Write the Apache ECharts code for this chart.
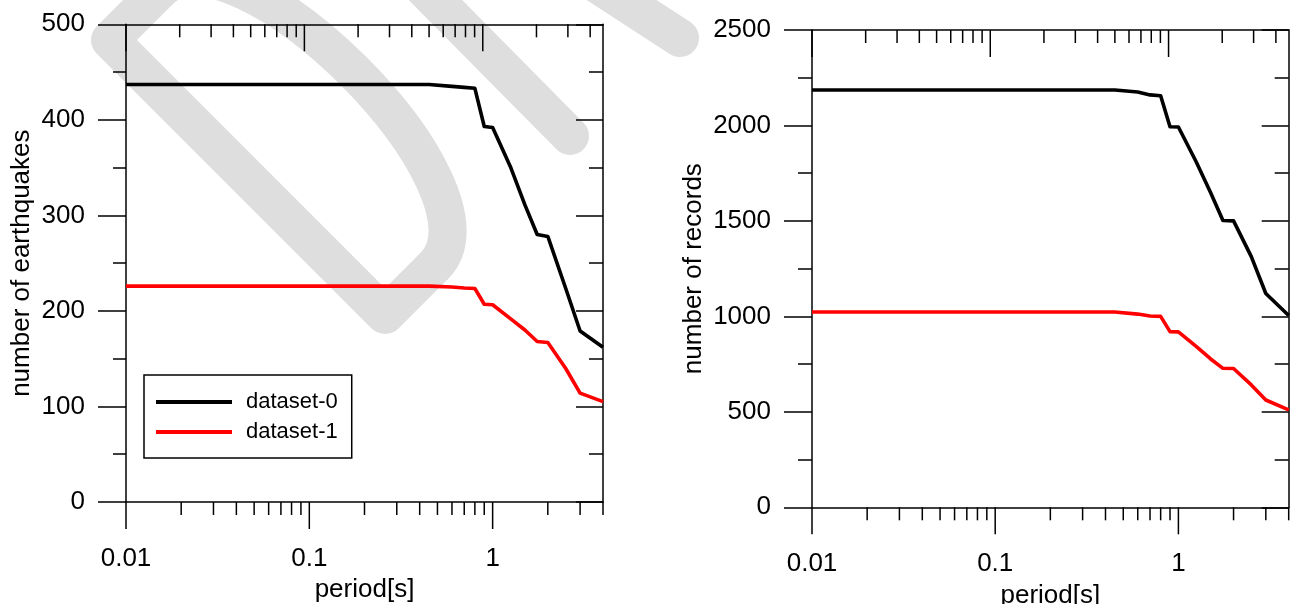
<!DOCTYPE html>
<html><head><meta charset="utf-8">
<script src="https://cdn.jsdelivr.net/npm/echarts@6/dist/echarts.min.js"></script>
<style>html,body{margin:0;padding:0;background:#fff}#c{width:1290px;height:604px}</style>
</head><body><div id="c"></div>
<script>
// ---- data ----
const periods = [0.01, 0.02, 0.03, 0.05, 0.075, 0.1, 0.15, 0.2, 0.25, 0.3, 0.4, 0.45, 0.6, 0.7, 0.8, 0.9, 1, 1.25, 1.5, 1.75, 2, 2.5, 3, 4];
const eqDataset0 = [437, 437, 437, 437, 437, 437, 437, 437, 437, 437, 437, 437, 435, 434, 433, 393, 392, 351, 311, 280, 278, 224, 179, 162];
const eqDataset1 = [226, 226, 226, 226, 226, 226, 226, 226, 226, 226, 226, 226, 225, 224, 223.5, 207, 206.5, 192, 180, 168, 167, 140, 114, 105];
const recDataset0 = [2186, 2186, 2186, 2186, 2186, 2186, 2186, 2186, 2186, 2186, 2186, 2186, 2175, 2160, 2156, 1993, 1992, 1810, 1648, 1502, 1500, 1313, 1120, 1005];
const recDataset1 = [1023, 1023, 1023, 1023, 1023, 1023, 1023, 1023, 1023, 1023, 1023, 1023, 1012, 1002, 1000, 920, 919, 843, 777, 728, 727, 641, 562, 510];
const seriesNames = ['dataset-0', 'dataset-1'];
const xMajorTicks = [0.01, 0.1, 1];
const xMinorTicks = [0.02, 0.03, 0.04, 0.05, 0.06, 0.07, 0.08, 0.09, 0.2, 0.3, 0.4, 0.5, 0.6, 0.7, 0.8, 0.9, 2, 3, 4];
const xRange = [0.01, 4];
const xTopRange = [0.01, 4.72];
const eqYRange = [0, 500], eqYStep = 100;
const recYRange = [0, 2500], recYStep = 500;
const xTitle = 'period[s]';
const eqYTitle = 'number of earthquakes';
const recYTitle = 'number of records';

// ---- chart ----
const FONT = "'Liberation Sans', Arial, sans-serif";
const FS = 26;
const AX = {color: '#000', width: 1.5};
const chart = echarts.init(document.getElementById('c'), null, {renderer: 'canvas'});

function pairs(ys) { return periods.map((p, i) => [p, ys[i]]); }

function xBottom(gridIndex, nameGap) {
  return {
    type: 'log', gridIndex, position: 'bottom', min: xRange[0], max: xRange[1], logBase: 10,
    axisLine: {show: true, onZero: false, lineStyle: AX},
    axisTick: {show: false}, splitLine: {show: false}, minorTick: {show: false},
    axisLabel: {show: true, margin: 44, fontSize: FS, color: '#000', fontFamily: FONT,
      showMaxLabel: false, formatter: v => String(+(+v).toPrecision(6))},
    name: xTitle, nameLocation: 'middle', nameGap,
    nameTextStyle: {fontSize: FS, color: '#000', fontFamily: FONT}
  };
}
function xTop(gridIndex) {
  return {
    type: 'log', gridIndex, position: 'top', min: xTopRange[0], max: xTopRange[1], logBase: 10,
    axisLine: {show: true, onZero: false, lineStyle: AX},
    axisTick: {show: false}, axisLabel: {show: false}, splitLine: {show: false}
  };
}
function yLeft(gridIndex, range, step, name, nameGap, tickLen, minorLen) {
  return {
    type: 'value', gridIndex, position: 'left', min: range[0], max: range[1], interval: step,
    axisLine: {show: true, onZero: false, lineStyle: AX},
    axisTick: {show: true, inside: false, length: tickLen, lineStyle: AX},
    minorTick: {show: true, splitNumber: 2, length: minorLen, lineStyle: AX},
    splitLine: {show: false}, minorSplitLine: {show: false},
    axisLabel: {margin: 41, fontSize: FS, color: '#000', fontFamily: FONT, formatter: v => String(v)},
    name, nameLocation: 'middle', nameGap,
    nameTextStyle: {fontSize: FS, color: '#000', fontFamily: FONT}
  };
}
function yRight(gridIndex, range, step, tickLen, minorLen) {
  return {
    type: 'value', gridIndex, position: 'right', min: range[0], max: range[1], interval: step,
    axisLine: {show: true, onZero: false, lineStyle: AX},
    axisTick: {show: true, inside: true, length: tickLen, lineStyle: AX},
    minorTick: {show: true, splitNumber: 2, length: minorLen, lineStyle: AX},
    splitLine: {show: false}, minorSplitLine: {show: false},
    axisLabel: {show: false}
  };
}
function tickSeries(xIdx, yIdx, atTop) {
  return {
    type: 'custom', xAxisIndex: xIdx, yAxisIndex: yIdx, silent: true, clip: false, z: 3,
    data: xMajorTicks.concat(xMinorTicks).map(v => [v, 0]),
    renderItem(params, api) {
      const v = api.value(0);
      const cs = params.coordSys;
      const x = api.coord([v, 0])[0];
      const len = xMajorTicks.indexOf(v) >= 0 ? 27 : 13;
      const y0 = atTop ? cs.y : cs.y + cs.height;
      return {type: 'line', shape: {x1: x, y1: y0, x2: x, y2: y0 + len},
        style: {stroke: '#000', lineWidth: 1.5}};
    }
  };
}
function lineSeries(name, xIdx, yIdx, ys, color) {
  return {
    type: 'line', name, xAxisIndex: xIdx, yAxisIndex: yIdx, data: pairs(ys),
    showSymbol: false, symbol: 'none', color, z: 5,
    lineStyle: {color, width: 3.6, join: 'round'}
  };
}

// watermark (decoration)
const WM = '#dedede';
const A0 = [110, 40], L0 = 389, r2 = Math.SQRT1_2;
function P(u, v) { return [A0[0] + (u + v) * r2, A0[1] + (u - v) * r2]; }
const bS = P(L0, 70), bC1 = P(L0, 177), bC2 = P(0, 177), bE = P(0, 70);
const wmStyle = {stroke: WM, lineWidth: 38, lineJoin: 'round', lineCap: 'round', fill: null};

const option = {
  backgroundColor: '#fff',
  animation: false,
  textStyle: {fontFamily: FONT},
  graphic: {elements: [
    {type: 'polyline', z: -10, silent: true, shape: {points: [P(0, 70), P(0, 0), P(L0, 0), P(L0, 70)]}, style: wmStyle},
    {type: 'bezierCurve', z: -10, silent: true,
      shape: {x1: bS[0], y1: bS[1], cpx1: bC1[0], cpy1: bC1[1], cpx2: bC2[0], cpy2: bC2[1], x2: bE[0], y2: bE[1]},
      style: wmStyle},
    {type: 'line', z: -10, silent: true, shape: {x1: 380, y1: -56, x2: 570, y2: 136}, style: wmStyle},
    {type: 'line', z: -10, silent: true, shape: {x1: 560, y1: -40, x2: 680, y2: 38}, style: wmStyle}
  ]},
  grid: [
    {left: 126, top: 24.3, width: 477, height: 477.7, outerBoundsMode: 'none', containLabel: false},
    {left: 812, top: 30, width: 476.7, height: 477.3, outerBoundsMode: 'none', containLabel: false}
  ],
  legend: {
    data: seriesNames, orient: 'vertical', left: 144, top: 375, selectedMode: false,
    icon: 'rect', itemWidth: 76, itemHeight: 4, itemGap: 8,
    padding: [16, 14, 15, 12], borderColor: '#000', borderWidth: 1.5, backgroundColor: '#fff',
    textStyle: {fontSize: 22, color: '#000', fontFamily: FONT, lineHeight: 22, padding: [0, 0, 0, 9]}
  },
  xAxis: [xBottom(0, 73), xTop(0), xBottom(1, 76), xTop(1)],
  yAxis: [
    yLeft(0, eqYRange, eqYStep, eqYTitle, 91, 28, 13),
    yRight(0, eqYRange, eqYStep, 27, 14),
    yLeft(1, recYRange, recYStep, recYTitle, 105, 28, 14),
    yRight(1, recYRange, recYStep, 27, 14)
  ],
  series: [
    tickSeries(0, 0, false), tickSeries(1, 0, true),
    tickSeries(2, 2, false), tickSeries(3, 2, true),
    lineSeries(seriesNames[0], 0, 0, eqDataset0, '#000000'),
    lineSeries(seriesNames[1], 0, 0, eqDataset1, '#ff0000'),
    lineSeries(seriesNames[0], 2, 2, recDataset0, '#000000'),
    lineSeries(seriesNames[1], 2, 2, recDataset1, '#ff0000')
  ]
};
chart.setOption(option);
</script>
</body></html>
